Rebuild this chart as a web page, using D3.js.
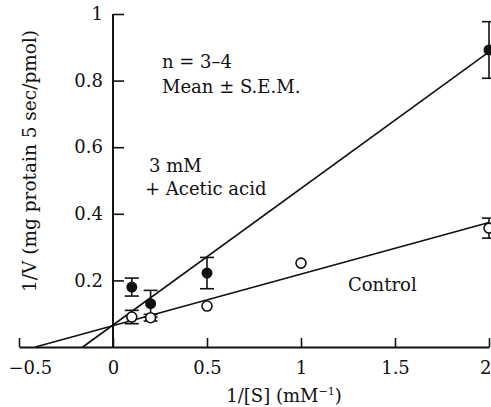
<!DOCTYPE html>
<html>
<head>
<meta charset="utf-8">
<script src="https://cdn.jsdelivr.net/npm/d3@7"></script>
<style>
  body { margin: 0; background: #fff; }
</style>
</head>
<body>
<svg id="chart" width="491" height="407"></svg>
<script>
// data
var xTicks = [-0.5, 0, 0.5, 1, 1.5, 2];
var xTickLabels = ["\u22120.5", "0", "0.5", "1", "1.5", "2"];
var yTicks = [0.2, 0.4, 0.6, 0.8, 1];
var yTickLabels = ["0.2", "0.4", "0.6", "0.8", "1"];

// + 3 mM acetic acid (filled circles)
var aceticX = [0.1, 0.2, 0.5, 2];
var aceticY = [0.18, 0.13, 0.222, 0.892];
var aceticErr = [0.027, 0.04, 0.047, 0.085];

// control (open circles)
var controlX = [0.1, 0.2, 0.5, 1, 2];
var controlY = [0.09, 0.088, 0.123, 0.252, 0.357];
var controlErr = [0.02, 0.01, 0, 0, 0.03];

// fitted lines: [intercept, slope, xStart, xEnd]
var aceticFit = [0.066, 0.41, -0.161, 2];
var controlFit = [0.064, 0.155, -0.413, 2];

var FONT = "'DejaVu Serif', serif";

var svg = d3.select("#chart")
    .attr("font-family", FONT);

var x = d3.scaleLinear().domain([-0.5, 2]).range([19, 489]);
var y = d3.scaleLinear().domain([0, 1]).range([347, 14]);

// X axis
var xAxis = svg.append("g")
    .attr("transform", "translate(0," + y(0) + ")")
    .call(d3.axisBottom(x)
        .tickValues(xTicks)
        .tickFormat(function (d, i) { return xTickLabels[i]; })
        .tickSize(-9)
        .tickSizeOuter(0)
        .tickPadding(14));
// Y axis
var yAxis = svg.append("g")
    .attr("transform", "translate(" + x(0) + ",0)")
    .call(d3.axisLeft(y)
        .tickValues(yTicks)
        .tickFormat(function (d, i) { return yTickLabels[i]; })
        .tickSize(-11)
        .tickSizeOuter(0)
        .tickPadding(10));

svg.selectAll("g").attr("font-family", FONT);
svg.selectAll(".domain").attr("stroke", "#111").attr("stroke-width", 2);
svg.selectAll(".tick line").attr("stroke", "#111").attr("stroke-width", 1.6);
svg.selectAll(".tick text")
    .attr("font-size", 18)
    .attr("fill", "#111");
// end labels kept inside the picture
xAxis.selectAll(".tick text").filter(function (d) { return d === 2; })
    .attr("text-anchor", "end").attr("x", 2);
xAxis.selectAll(".tick text").filter(function (d) { return d === -0.5; })
    .attr("text-anchor", "start").attr("x", -11);
yAxis.select(".domain").attr("d", "M0," + y(0) + "V" + y(1));

// axis titles
svg.append("text")
    .attr("transform", "translate(36,161) rotate(-90)")
    .attr("text-anchor", "middle")
    .attr("font-size", 18.5)
    .attr("fill", "#111")
    .text("1/V (mg protain 5 sec/pmol)");

var xt = svg.append("text")
    .attr("x", 284)
    .attr("y", 402)
    .attr("text-anchor", "middle")
    .attr("font-size", 18)
    .attr("fill", "#111");
xt.append("tspan").text("1/[S] (mM");
xt.append("tspan").attr("font-size", 11).attr("dy", -7).text("\u2212");
xt.append("tspan").attr("font-size", 11).text("1");
xt.append("tspan").attr("dy", 7).text(")");

// annotations
var notes = [
    ["n = 3\u20134", 162, 68],
    ["Mean \u00b1 S.E.M.", 162, 93],
    ["3 mM", 149, 172],
    ["+ Acetic acid", 145, 195],
    ["Control", 348, 291]
];
svg.selectAll("text.note")
    .data(notes)
    .enter()
    .append("text")
    .attr("class", "note")
    .attr("x", function (d) { return d[1]; })
    .attr("y", function (d) { return d[2]; })
    .attr("font-size", 18)
    .attr("fill", "#111")
    .text(function (d) { return d[0]; });

// fitted lines
[aceticFit, controlFit].forEach(function (f) {
    svg.append("line")
        .attr("x1", x(f[2]))
        .attr("y1", y(f[0] + f[1] * f[2]))
        .attr("x2", x(f[3]))
        .attr("y2", y(f[0] + f[1] * f[3]))
        .attr("stroke", "#111")
        .attr("stroke-width", 1.6);
});

// error bars
function errorBars(xs, ys, es) {
    var g = svg.append("g").attr("stroke", "#111").attr("stroke-width", 1.6);
    xs.forEach(function (xv, i) {
        if (!es[i]) return;
        var cx = x(xv), top = y(ys[i] + es[i]), bot = y(ys[i] - es[i]);
        g.append("line").attr("x1", cx).attr("x2", cx).attr("y1", top).attr("y2", bot);
        g.append("line").attr("x1", cx - 7).attr("x2", cx + 7).attr("y1", top).attr("y2", top);
        g.append("line").attr("x1", cx - 7).attr("x2", cx + 7).attr("y1", bot).attr("y2", bot);
    });
}
errorBars(aceticX, aceticY, aceticErr);
errorBars(controlX, controlY, controlErr);

// points
svg.append("g").selectAll("circle")
    .data(controlX)
    .enter()
    .append("circle")
    .attr("cx", function (d) { return x(d); })
    .attr("cy", function (d, i) { return y(controlY[i]); })
    .attr("r", 5)
    .attr("fill", "white")
    .attr("stroke", "#111")
    .attr("stroke-width", 1.6);

svg.append("g").selectAll("circle")
    .data(aceticX)
    .enter()
    .append("circle")
    .attr("cx", function (d) { return x(d); })
    .attr("cy", function (d, i) { return y(aceticY[i]); })
    .attr("r", 5.5)
    .attr("fill", "#111");
</script>
</body>
</html>
